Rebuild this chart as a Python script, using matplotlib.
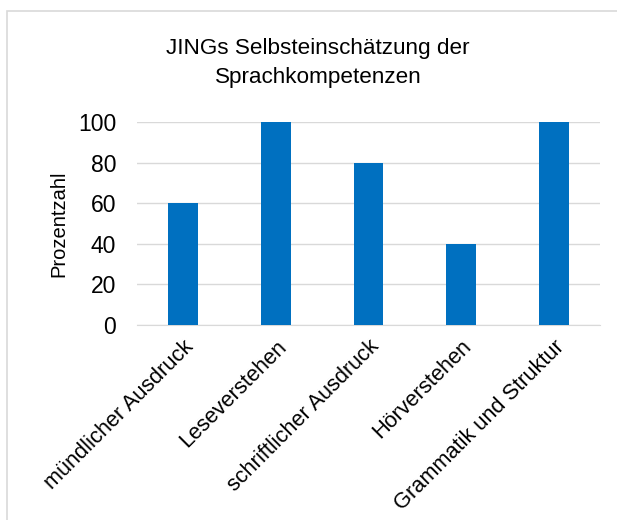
import matplotlib.pyplot as plt
from matplotlib.patches import Rectangle

kategorien = ['mündlicher Ausdruck', 'Leseverstehen', 'schriftlicher Ausdruck',
              'Hörverstehen', 'Grammatik und Struktur']
werte = [60, 100, 80, 40, 100]
yticks = [0, 20, 40, 60, 80, 100]

plt.rcParams['font.family'] = ['Liberation Sans', 'DejaVu Sans']

fig = plt.figure(figsize=(6.17, 5.2), dpi=100)
# grauer rahmen
fig.patches.append(Rectangle((7/617, -0.1), 1.2, 1 - 11/520 + 0.1, transform=fig.transFigure,
                             fill=False, edgecolor='#d9d9d9', linewidth=1.2))

ax = fig.add_axes([137/617, 195/520, 463/617, 203/520])
ax.bar(range(len(werte)), werte, width=0.32, color='#0070c0', zorder=3)
ax.set_xlim(-0.5, len(werte) - 0.5)
ax.set_ylim(0, 100)
ax.set_yticks(yticks)
ax.grid(axis='y', color='#d9d9d9', linewidth=1, zorder=0)
for s in ['top', 'right', 'left']:
    ax.spines[s].set_visible(False)
ax.spines['bottom'].set_color('#d9d9d9')
ax.tick_params(length=0, labelsize=16.5, colors='#000000')
ax.tick_params(axis='y', pad=15)
ax.set_xticks(range(len(werte)))
ax.set_xticklabels(kategorien, rotation=45, ha='right', rotation_mode='anchor', fontsize=15.7)
ax.tick_params(axis='x', pad=8)
ax.set_ylabel('Prozentzahl', fontsize=14.5, labelpad=7)

fig.text(318/617, 1 - 63/520, 'JINGs Selbsteinschätzung der\nSprachkompetenzen',
         ha='center', va='center', fontsize=16.2, linespacing=1.5)

fig.savefig('out.png', dpi=100)
